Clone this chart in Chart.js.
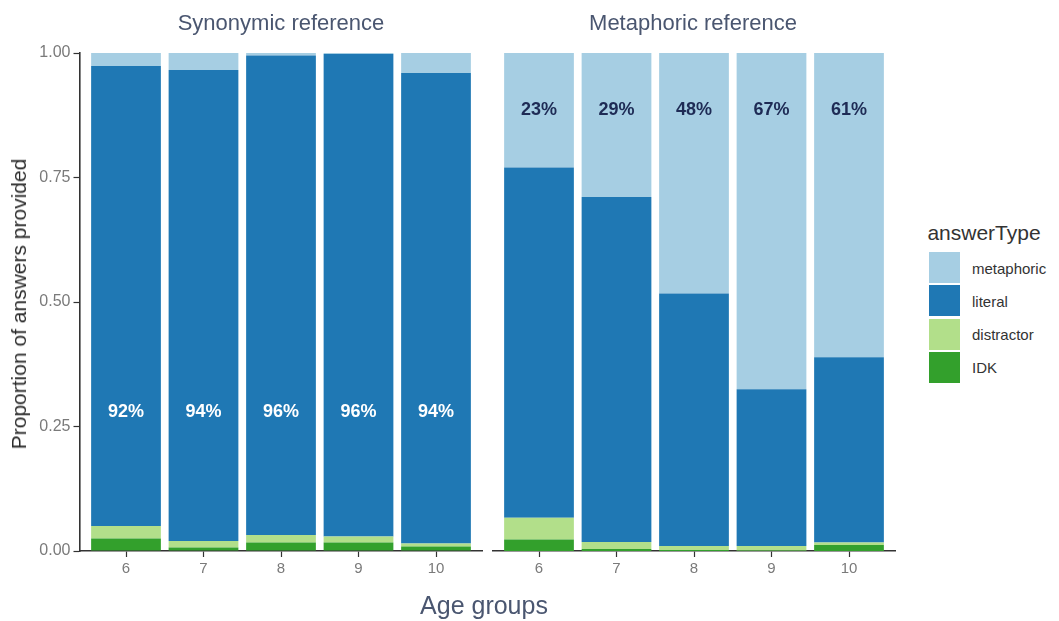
<!DOCTYPE html>
<html>
<head>
<meta charset="utf-8">
<script src="https://cdn.jsdelivr.net/npm/chart.js@4"></script>
<style>
  body { margin: 0; background: #fff; font-family: "Liberation Sans", Arial, sans-serif; }
  #wrap { position: relative; width: 1059px; height: 621px; overflow: hidden; }
  canvas { position: absolute; top: 0; }
  .t { position: absolute; white-space: nowrap; transform: translate(-50%, -50%); }
  .key { position: absolute; width: 31px; height: 31px; }
  .lab { position: absolute; font-size: 15px; color: #333; transform: translateY(-50%); }
</style>
</head>
<body>
<div id="wrap">
  <canvas id="left" width="485" height="621" style="left:0"></canvas>
  <canvas id="right" width="420" height="621" style="left:485px"></canvas>
  <div class="t" style="left:281px;top:23px;font-size:22px;color:#4a5670">Synonymic reference</div>
  <div class="t" style="left:693px;top:23px;font-size:22px;color:#4a5670">Metaphoric reference</div>
  <div class="t" style="left:484px;top:605px;font-size:25px;color:#4a5670">Age groups</div>
  <div class="t" style="left:19px;top:304px;font-size:21px;color:#2b2b2b;transform:translate(-50%,-50%) rotate(-90deg)">Proportion of answers provided</div>
  <div class="t" style="left:984px;top:233px;font-size:21px;color:#333">answerType</div>
  <div id="legend"></div>
</div>
<script>
// Data
const ageGroups = ['6', '7', '8', '9', '10'];
const seriesNames = ['IDK', 'distractor', 'literal', 'metaphoric'];
const seriesColors = ['#33a02c', '#b2df8a', '#1f78b4', '#a6cee3'];

// Synonymic reference panel
const synIDK        = [0.025, 0.007, 0.017, 0.017, 0.009];
const synDistractor = [0.025, 0.013, 0.015, 0.012, 0.006];
const synLiteral    = [0.924, 0.946, 0.963, 0.969, 0.945];
const synMetaphoric = [0.026, 0.034, 0.005, 0.002, 0.040];
const synLabels     = ['92%', '94%', '96%', '96%', '94%'];

// Metaphoric reference panel
const metIDK        = [0.023, 0.004, 0.002, 0.001, 0.012];
const metDistractor = [0.044, 0.014, 0.008, 0.009, 0.005];
const metLiteral    = [0.703, 0.693, 0.507, 0.315, 0.372];
const metMetaphoric = [0.230, 0.289, 0.483, 0.675, 0.611];
const metLabels     = ['23%', '29%', '48%', '67%', '61%'];

const yTicks = [0, 0.25, 0.5, 0.75, 1];

const FONT = '"Liberation Sans", Arial, sans-serif';
const AXIS = '#333333';

// text labels on the bars
const barLabels = {
  id: 'barLabels',
  afterDatasetsDraw(chart, args, opts) {
    const { ctx, scales: { x, y } } = chart;
    ctx.save();
    ctx.font = 'bold 18px ' + FONT;
    ctx.fillStyle = opts.color;
    ctx.textAlign = 'center';
    ctx.textBaseline = 'middle';
    opts.labels.forEach((t, i) => {
      ctx.fillText(t, x.getPixelForValue(i + 1), y.getPixelForValue(opts.at));
    });
    ctx.restore();
  }
};

function makePanel(id, series, labels, labelColor, labelAt, showY, padding) {
  const datasets = series.map((vals, k) => ({
    label: seriesNames[k],
    data: vals.map((v, i) => ({ x: i + 1, y: v })),
    backgroundColor: seriesColors[k],
    borderWidth: 0,
    barPercentage: 1,
    categoryPercentage: 0.9
  }));

  return new Chart(document.getElementById(id).getContext('2d'), {
    type: 'bar',
    data: { datasets: datasets },
    plugins: [barLabels],
    options: {
      responsive: false,
      animation: false,
      layout: { padding: padding },
      plugins: {
        legend: { display: false },
        tooltip: { enabled: false },
        barLabels: { labels: labels, color: labelColor, at: labelAt }
      },
      scales: {
        x: {
          type: 'linear',
          stacked: true,
          offset: false,
          min: 0.4,
          max: 5.6,
          afterBuildTicks: s => { s.ticks = ageGroups.map((a, i) => ({ value: i + 1 })); },
          afterFit: s => { s.height = 30; },
          grid: { offset: false, drawOnChartArea: false, tickLength: 6, tickColor: AXIS, tickWidth: 1.2 },
          border: { display: true, color: AXIS, width: 1.6 },
          ticks: {
            autoSkip: false,
            maxRotation: 0,
            padding: 3,
            color: '#7a7a7a',
            font: { family: FONT, size: 15 },
            callback: v => ageGroups[v - 1]
          }
        },
        y: {
          display: showY,
          stacked: true,
          min: 0,
          max: 1,
          afterBuildTicks: s => { s.ticks = yTicks.map(v => ({ value: v })); },
          afterFit: s => { s.width = showY ? 79.5 : 0; },
          grid: { drawOnChartArea: false, tickLength: 6, tickColor: AXIS, tickWidth: 1.2 },
          border: { display: true, color: AXIS, width: 1.6 },
          ticks: {
            padding: 3,
            color: '#7a7a7a',
            font: { family: FONT, size: 16 },
            callback: v => v.toFixed(2)
          }
        }
      }
    }
  });
}

makePanel('left', [synIDK, synDistractor, synLiteral, synMetaphoric], synLabels,
  '#ffffff', 0.28, true, { left: 0, right: 2.5, top: 53, bottom: 40 });
makePanel('right', [metIDK, metDistractor, metLiteral, metMetaphoric], metLabels,
  '#1e2b55', 0.886, false, { left: 7.5, right: 9.5, top: 53, bottom: 40 });

// legend, top entry first as in the picture
const legend = document.getElementById('legend');
const order = [3, 2, 1, 0];
order.forEach((k, j) => {
  const top = 252 + j * 33.3;
  const key = document.createElement('div');
  key.className = 'key';
  key.style.left = '929px';
  key.style.top = top + 'px';
  key.style.background = seriesColors[k];
  legend.appendChild(key);
  const lab = document.createElement('div');
  lab.className = 'lab';
  lab.style.left = '972px';
  lab.style.top = (top + 15.5) + 'px';
  lab.textContent = seriesNames[k];
  legend.appendChild(lab);
});
</script>
</body>
</html>
